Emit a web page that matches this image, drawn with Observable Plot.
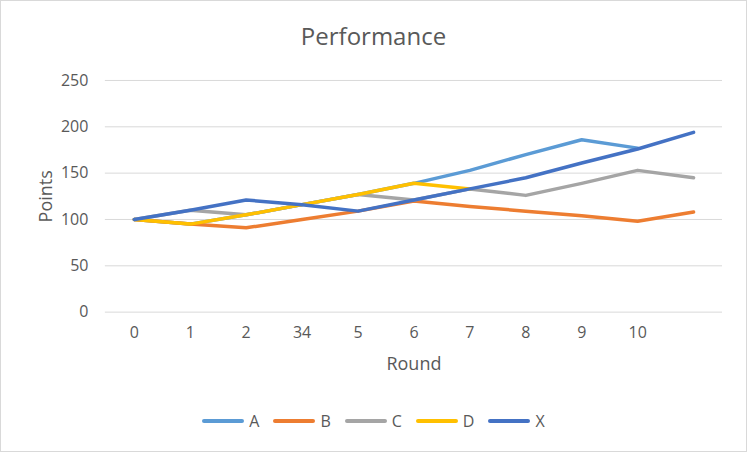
<!DOCTYPE html>
<html>
<head>
<meta charset="utf-8">
<script src="https://cdn.jsdelivr.net/npm/d3@7"></script>
<script src="https://cdn.jsdelivr.net/npm/@observablehq/plot@0.6"></script>
<style>
  html, body { margin: 0; padding: 0; background: #fff; }
  #wrap { width: 747px; height: 452px; box-sizing: border-box; border: 1px solid #d9d9d9; position: relative; font-family: "Open Sans", "Noto Sans", sans-serif; color: #595959; overflow: hidden; }
  #title { position: absolute; left: 0; top: 0; width: 100%; height: 60px; line-height: 70px; text-align: center; font-size: 24px; color: #595959; }
  #chart { position: absolute; left: -1px; top: 56px; }
  #legend { position: absolute; left: 0; top: 409px; width: 100%; display: flex; justify-content: center; align-items: center; font-size: 16px; color: #595959; }
  .item { display: flex; align-items: center; margin: 0 7px; }
  .sw { width: 42px; height: 4px; border-radius: 2px; margin-right: 5px; }
</style>
</head>
<body>
<div id="wrap">
  <div id="title">Performance</div>
  <div id="chart"></div>
  <div id="legend"></div>
</div>
<script>
const roundLabels = ["0", "1", "2", "34", "5", "6", "7", "8", "9", "10", ""];
const seriesNames = ["A", "B", "C", "D", "X"];
const seriesColors = ["#5B9BD5", "#ED7D31", "#A5A5A5", "#FFC000", "#4472C4"];
const valuesA = [100, 95, 105, 116, 127, 139, 153, 170, 186, 177];
const valuesB = [100, 95, 91, 100, 109, 120, 114, 109, 104, 98, 108];
const valuesC = [100, 110, 105, 116, 127, 121, 133, 126, 139, 153, 145];
const valuesD = [100, 95, 105, 116, 127, 139, 133];
const valuesX = [100, 110, 121, 116, 109, 121, 133, 145, 161, 176, 194];
const yTicks = [0, 50, 100, 150, 200, 250];

const allValues = [valuesA, valuesB, valuesC, valuesD, valuesX];
const idx = roundLabels.map((_, i) => i);

const lineMarks = allValues.map((vals, s) =>
  Plot.lineY(vals.map((v, i) => ({i, v})), {
    x: "i", y: "v", stroke: seriesColors[s], strokeWidth: 3.5,
    strokeLinejoin: "round", strokeLinecap: "round"
  })
);

const chart = Plot.plot({
  width: 747,
  height: 329,
  marginTop: 23,
  marginBottom: 74,
  marginLeft: 105,
  marginRight: 24,
  style: { fontFamily: "'Open Sans', 'Noto Sans', sans-serif", fontSize: "16px", color: "#595959", background: "transparent" },
  x: { type: "point", domain: idx, padding: 0.5, label: null },
  y: { domain: [0, 250], label: null },
  marks: [
    Plot.gridY(yTicks, { stroke: "#d9d9d9", strokeOpacity: 1, strokeWidth: 1 }),
    Plot.axisY({ ticks: yTicks, tickSize: 0, tickPadding: 17, fontSize: 16, tickFormat: d => String(d) }),
    Plot.axisY({ ticks: [], label: "Points", labelAnchor: "center", labelArrow: "none", labelOffset: 66, fontSize: 18 }),
    Plot.axisX({ ticks: idx, tickSize: 0, tickPadding: 15, fontSize: 16, tickFormat: i => roundLabels[i] }),
    Plot.axisX({ ticks: [], label: "Round", labelAnchor: "center", labelArrow: "none", labelOffset: 58, fontSize: 18 }),
    ...lineMarks
  ]
});
document.getElementById("chart").appendChild(chart);

const legend = document.getElementById("legend");
seriesNames.forEach((name, s) => {
  const it = document.createElement("div");
  it.className = "item";
  const sw = document.createElement("div");
  sw.className = "sw";
  sw.style.background = seriesColors[s];
  const lb = document.createElement("span");
  lb.textContent = name;
  it.appendChild(sw); it.appendChild(lb);
  legend.appendChild(it);
});
</script>
</body>
</html>
